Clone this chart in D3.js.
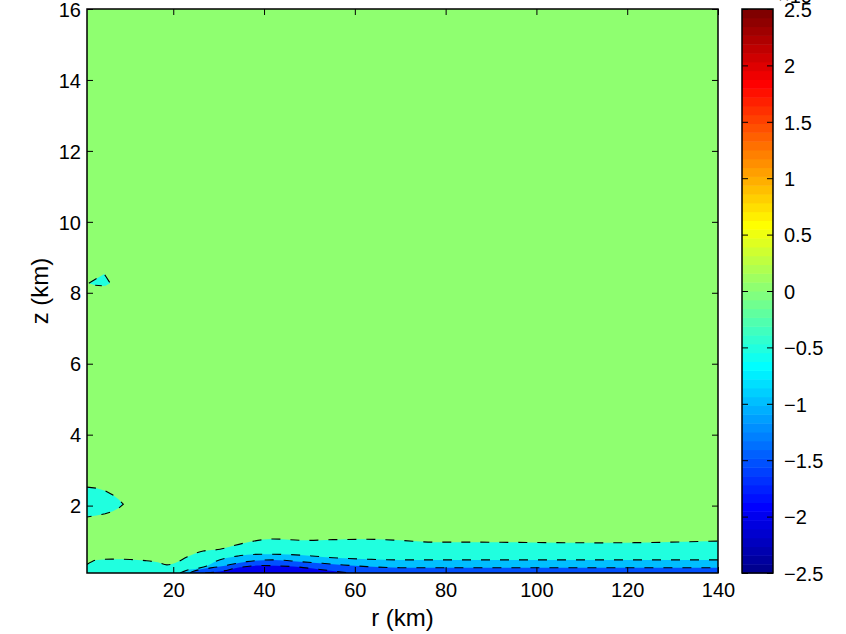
<!DOCTYPE html>
<html>
<head>
<meta charset="utf-8">
<script src="https://cdn.jsdelivr.net/npm/d3@7"></script>
<style>
  html, body { margin: 0; padding: 0; background: #fff; }
  svg text { font-family: "Liberation Sans", Arial, Helvetica, sans-serif; fill: #000; }
</style>
</head>
<body>
<svg id="chart" width="846" height="634"></svg>
<script>
// ---------------- DATA ----------------
const xTicks = [20, 40, 60, 80, 100, 120, 140];
const yTicks = [2, 4, 6, 8, 10, 12, 14, 16];
const cbTicks = [-2.5, -2, -1.5, -1, -0.5, 0, 0.5, 1, 1.5, 2, 2.5];
const cbExponent = "×10";
const cbExponentPow = "−3";

// filled contour levels (x10^-3); background value and nested lower levels
const backgroundLevel = 0;
const levels = [-0.5, -1, -1.5, -2];

// boundaries [r (km), z (km)] : upper edge of each level region along the ground
const bound1 = [[1,0.34],[3.2,0.47],[6.5,0.49],[10.5,0.48],[13.8,0.45],[16.6,0.40],[18.6,0.33],[20.4,0.38],
  [23,0.55],[26.6,0.72],[30.3,0.77],[33.2,0.87],[36.2,0.96],[42,1.06],[49,1.02],[55.2,1.04],[62.7,1.05],
  [70,1.02],[77.2,0.97],[84.7,0.97],[98.6,0.96],[114,0.95],[125,0.96],[140,1.0]];
const bound2 = [[21.5,0.1],[23,0.18],[25.4,0.23],[27.4,0.30],[29.2,0.42],[34.3,0.58],[39.5,0.63],[45.3,0.62],
  [50.6,0.58],[55.2,0.53],[62.7,0.49],[70,0.47],[77.2,0.47],[92,0.47],[114,0.47],[140,0.47]];
const bound3 = [[23.7,0.1],[24.3,0.14],[30.3,0.28],[36.2,0.42],[42,0.47],[47.9,0.42],[55.2,0.35],[62.7,0.28],
  [70,0.25],[90,0.25],[115,0.25],[140,0.25]];
const bound4 = [[27,0.1],[30.3,0.14],[34.7,0.26],[39.1,0.31],[46.4,0.28],[52.3,0.2],[58.9,0.1]];
const groundBounds = [bound1, bound2, bound3, bound4];

// isolated closed regions at level -0.5
const blobLow = [[1,2.52],[3.1,2.49],[5,2.42],[6.7,2.30],[8,2.17],[9,2.04],[8,1.93],[6.7,1.84],[5,1.77],[3.1,1.72],[1,1.68]];
const blobHigh = [[1.4,8.27],[4.8,8.53],[5.2,8.45],[6.1,8.27],[5.0,8.19],[2.8,8.21]];
const blobs = [blobLow, blobHigh];

// ---------------- LAYOUT ----------------
const svg = d3.select("#chart");
const plot = { left: 87, right: 718, top: 9, bottom: 573 };
const cb = { left: 742, right: 773, top: 9, bottom: 573 };

const x = d3.scaleLinear().domain([1, 140]).range([plot.left, plot.right]);
const y = d3.scaleLinear().domain([0.1, 16]).range([plot.bottom, plot.top]);
const cy = d3.scaleLinear().domain([-2.5, 2.5]).range([cb.bottom, cb.top]);

// MATLAB jet(64)
function jetRow(k) { // k = 1..64
  const u = j => (j < 1 || j > 47) ? 0 : (j <= 16 ? j / 16 : (j <= 31 ? 1 : (48 - j) / 16));
  return d3.rgb(Math.round(u(k - 24) * 255), Math.round(u(k - 8) * 255), Math.round(u(k + 8) * 255));
}
const colorIndex = v => Math.max(1, Math.min(64, Math.floor((v - cy.domain()[0]) / (cy.domain()[1] - cy.domain()[0]) * 64) + 1));
const colorOf = v => jetRow(colorIndex(v));

// ---------------- PLOT ----------------
svg.append("defs").append("clipPath").attr("id", "clip")
  .append("rect").attr("x", plot.left).attr("y", plot.top)
  .attr("width", plot.right - plot.left).attr("height", plot.bottom - plot.top);

const g = svg.append("g").attr("clip-path", "url(#clip)");
g.append("rect").attr("x", plot.left).attr("y", plot.top)
  .attr("width", plot.right - plot.left).attr("height", plot.bottom - plot.top)
  .attr("fill", colorOf(backgroundLevel));

const area = d3.area().x(d => x(d[0])).y0(y(0.1)).y1(d => y(d[1])).curve(d3.curveMonotoneX);
const line = d3.line().x(d => x(d[0])).y(d => y(d[1])).curve(d3.curveMonotoneX);
const closed = d3.line().x(d => x(d[0])).y(d => y(d[1])).curve(d3.curveLinearClosed);

groundBounds.forEach((b, i) => {
  g.append("path").attr("d", area(b)).attr("fill", colorOf(levels[i]));
});
blobs.forEach(b => {
  g.append("path").attr("d", closed(b)).attr("fill", colorOf(levels[0]));
});
// dashed contour lines (negative levels)
groundBounds.forEach(b => {
  g.append("path").attr("d", line(b)).attr("fill", "none")
    .attr("stroke", "#000").attr("stroke-width", 1.1).attr("stroke-dasharray", "9,10");
});
blobs.forEach(b => {
  g.append("path").attr("d", d3.line().x(d => x(d[0])).y(d => y(d[1]))(b)).attr("fill", "none")
    .attr("stroke", "#000").attr("stroke-width", 1.1).attr("stroke-dasharray", "9,10");
});

// axes
const fs = 20;
const ax = svg.append("g").attr("transform", `translate(0,${plot.bottom})`)
  .call(d3.axisBottom(x).tickValues(xTicks).tickSizeInner(-6).tickSizeOuter(0).tickPadding(10).tickFormat(d3.format("d")));
const axT = svg.append("g").attr("transform", `translate(0,${plot.top})`)
  .call(d3.axisTop(x).tickValues(xTicks).tickSizeInner(-6).tickSizeOuter(0).tickFormat(""));
const ay = svg.append("g").attr("transform", `translate(${plot.left},0)`)
  .call(d3.axisLeft(y).tickValues(yTicks).tickSizeInner(-6).tickSizeOuter(0).tickPadding(6).tickFormat(d3.format("d")));
const ayR = svg.append("g").attr("transform", `translate(${plot.right},0)`)
  .call(d3.axisRight(y).tickValues(yTicks).tickSizeInner(-6).tickSizeOuter(0).tickFormat(""));
[ax, axT, ay, ayR].forEach(a => {
  a.select(".domain").remove();
  a.selectAll(".tick line").attr("stroke", "#000").attr("stroke-width", 1);
  a.selectAll(".tick text").attr("font-size", fs).attr("font-family", "Liberation Sans, Arial, sans-serif").attr("fill", "#000");
});
ay.selectAll(".tick text").attr("dy", "0.36em");
ax.selectAll(".tick text").attr("dy", "0.71em");

svg.append("rect").attr("x", plot.left).attr("y", plot.top)
  .attr("width", plot.right - plot.left).attr("height", plot.bottom - plot.top)
  .attr("fill", "none").attr("stroke", "#000").attr("stroke-width", 1.5);

svg.append("text").attr("x", (plot.left + plot.right) / 2).attr("y", 626)
  .attr("text-anchor", "middle").attr("font-size", 24).text("r (km)");
svg.append("text").attr("transform", `translate(48,${(plot.top + plot.bottom) / 2}) rotate(-90)`)
  .attr("text-anchor", "middle").attr("font-size", 24).text("z (km)");

// ---------------- COLORBAR ----------------
const bands = d3.range(1, 65);
const step = (cy.domain()[1] - cy.domain()[0]) / 64;
svg.append("g").selectAll("rect").data(bands).join("rect")
  .attr("x", cb.left).attr("width", cb.right - cb.left)
  .attr("y", k => cy(cy.domain()[0] + k * step))
  .attr("height", k => cy(cy.domain()[0] + (k - 1) * step) - cy(cy.domain()[0] + k * step) + 0.5)
  .attr("fill", k => jetRow(k));

const cbAxis = svg.append("g").attr("transform", `translate(${cb.right},0)`)
  .call(d3.axisRight(cy).tickValues(cbTicks).tickSizeInner(-6).tickSizeOuter(0).tickPadding(11).tickFormat(d3.format("")));
const cbAxisL = svg.append("g").attr("transform", `translate(${cb.left},0)`)
  .call(d3.axisLeft(cy).tickValues(cbTicks).tickSizeInner(-6).tickSizeOuter(0).tickFormat(""));
[cbAxis, cbAxisL].forEach(a => {
  a.select(".domain").remove();
  a.selectAll(".tick line").attr("stroke", "#000").attr("stroke-width", 1);
  a.selectAll(".tick text").attr("font-size", fs).attr("font-family", "Liberation Sans, Arial, sans-serif").attr("fill", "#000").attr("dy", "0.36em");
});
svg.append("rect").attr("x", cb.left).attr("y", cb.top)
  .attr("width", cb.right - cb.left).attr("height", cb.bottom - cb.top)
  .attr("fill", "none").attr("stroke", "#000").attr("stroke-width", 1.5);

// exponent label (mostly clipped at the top edge, as in the original)
const ex = svg.append("text").attr("x", 778).attr("y", 2.5).attr("font-size", fs);
ex.append("tspan").text(cbExponent);
ex.append("tspan").attr("dy", -9).attr("font-size", 14).text(cbExponentPow);
</script>
</body>
</html>
